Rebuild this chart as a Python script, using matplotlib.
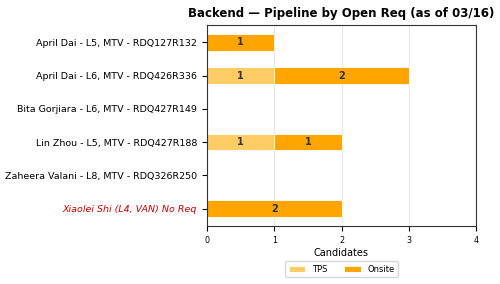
import matplotlib
matplotlib.use("Agg")
import matplotlib.pyplot as plt
import numpy as np

labels = ["April Dai - L5, MTV - RDQ127R132",
          "April Dai - L6, MTV - RDQ426R336",
          "Bita Gorjiara - L6, MTV - RDQ427R149",
          "Lin Zhou - L5, MTV - RDQ427R188",
          "Zaheera Valani - L8, MTV - RDQ326R250",
          "Xiaolei Shi (L4, VAN) No Req"]
tps = [0, 1, 0, 1, 0, 0]
onsite = [1, 2, 0, 1, 0, 2]

fig = plt.figure(figsize=(5, 2.84), dpi=100)
ax = fig.add_axes([0.414, 0.204, 0.538, 0.708])
y = np.arange(len(labels))
ax.set_axisbelow(True)
ax.grid(axis="x", color="#e6e6e6", linewidth=0.8)
b1 = ax.barh(y, tps, height=0.5, color="#FFCC66", edgecolor="white", linewidth=0.6, label="TPS")
b2 = ax.barh(y, onsite, height=0.5, left=tps, color="#FFA500", edgecolor="white", linewidth=0.6, label="Onsite")
for bars, vals in ((b1, tps), (b2, onsite)):
    for r, v in zip(bars, vals):
        if v > 0:
            ax.text(r.get_x() + r.get_width() / 2, r.get_y() + r.get_height() / 2,
                    str(v), ha="center", va="center", fontsize=7,
                    fontweight="bold", color="#333333")
ax.set_yticks(y)
ax.set_yticklabels(labels, fontsize=6.8)
ax.invert_yaxis()
ax.set_xlim(0, 4)
ax.set_xticks([0, 1, 2, 3, 4])
ax.tick_params(axis="x", labelsize=5.8)
ax.set_xlabel("Candidates", fontsize=7, labelpad=2)
for s in ax.spines.values():
    s.set_color("#333333")
tl = ax.get_yticklabels()[-1]
tl.set_color("#cc0000")
tl.set_style("italic")
ax.set_title("Backend — Pipeline by Open Req (as of 03/16)", fontsize=8.5, fontweight="bold")
ax.legend(loc="upper center", bbox_to_anchor=(0.5, -0.155), ncol=2, fontsize=6, frameon=True)
fig.savefig("out.png", dpi=100)
